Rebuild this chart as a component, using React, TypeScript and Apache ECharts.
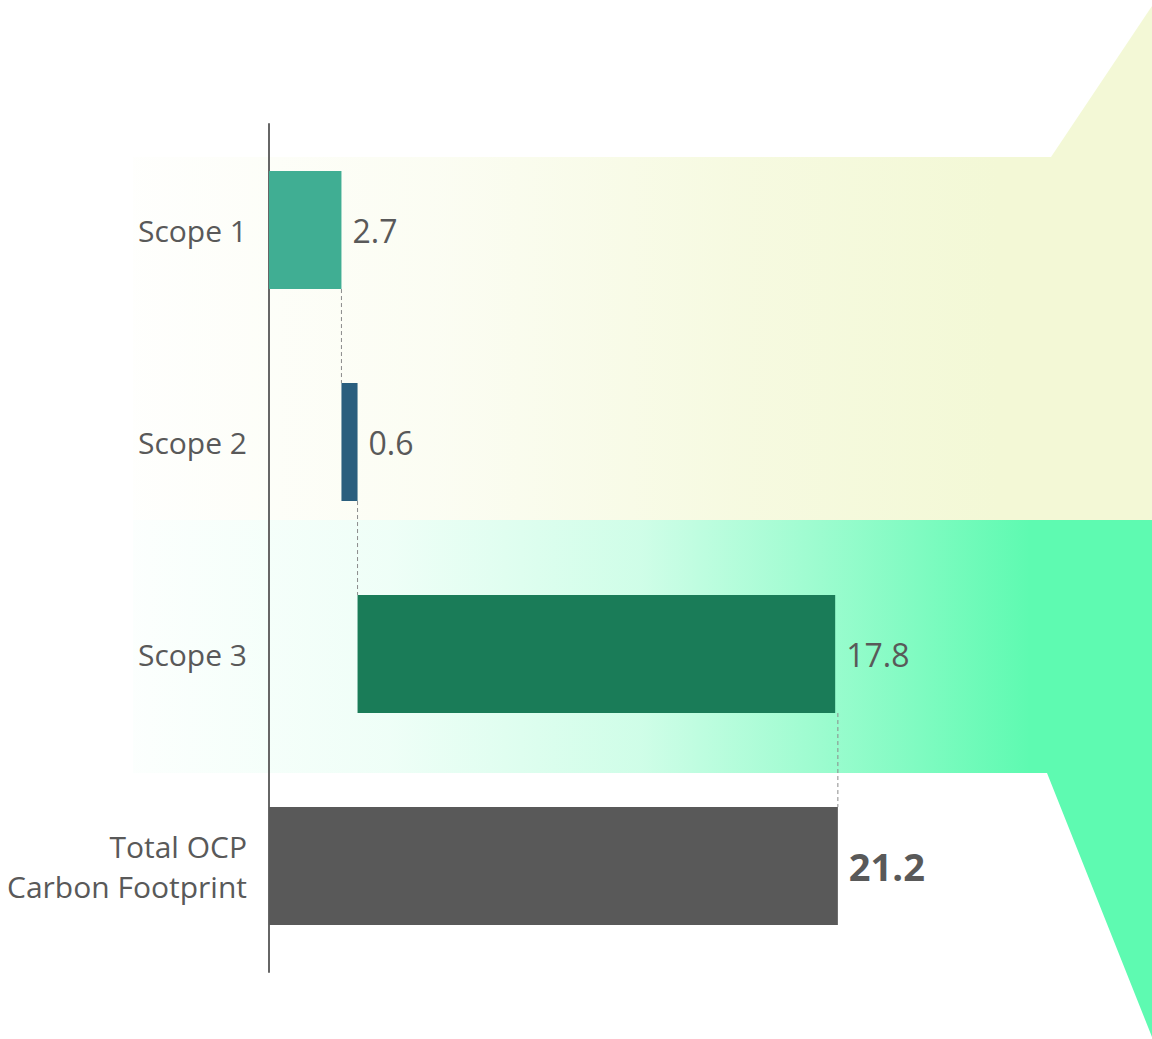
import React, { useEffect, useRef } from "react";
import * as echarts from "echarts";

const categories = ["Scope 1", "Scope 2", "Scope 3", "Total OCP\nCarbon Footprint"];
const values = [2.7, 0.6, 17.8, 21.2];
const isTotal = [false, false, false, true];
const barColors = ["#40ae93", "#2a5e7e", "#1a7c58", "#595959"];

const FONT = "'Open Sans', sans-serif";

export default function App() {
  const ref = useRef<HTMLDivElement>(null);
  useEffect(() => {
    if (!ref.current) return;
    const chart = echarts.init(ref.current, undefined, { renderer: "svg" });

    // waterfall bases
    const bases: number[] = [];
    let run = 0;
    values.forEach((v, i) => {
      if (isTotal[i]) {
        bases.push(0);
      } else {
        bases.push(run);
        run += v;
      }
    });
    // connector data: [xValue, fromIndex]
    const connectors = values.slice(0, -1).map((v, i) => [bases[i] + v, i]);
    connectors[connectors.length - 1] = [values[values.length - 1], values.length - 2];

    const BAR_RATIO = 0.557;

    chart.setOption({
      animation: false,
      backgroundColor: "#ffffff",
      graphic: [
        {
          type: "polygon",
          z: -10,
          silent: true,
          shape: {
            points: [
              [133, 157],
              [1051, 157],
              [1152, 6],
              [1152, 520],
              [133, 520],
            ],
          },
          style: {
            fill: new echarts.graphic.LinearGradient(0, 0, 1, 0, [
              { offset: 0, color: "rgba(243,248,214,0.05)" },
              { offset: 0.3, color: "rgba(243,248,214,0.3)" },
              { offset: 0.6, color: "rgba(243,248,214,0.75)" },
              { offset: 0.85, color: "rgba(243,248,214,1)" },
              { offset: 1, color: "rgba(243,248,214,1)" },
            ]),
          },
        },
        {
          type: "polygon",
          z: -10,
          silent: true,
          shape: {
            points: [
              [133, 520],
              [1152, 520],
              [1152, 1037],
              [1047, 773],
              [133, 773],
            ],
          },
          style: {
            fill: new echarts.graphic.LinearGradient(0, 0, 1, 0, [
              { offset: 0, color: "rgba(94,250,177,0.02)" },
              { offset: 0.25, color: "rgba(94,250,177,0.1)" },
              { offset: 0.5, color: "rgba(94,250,177,0.3)" },
              { offset: 0.7, color: "rgba(94,250,177,0.66)" },
              { offset: 0.88, color: "rgba(94,250,177,1)" },
              { offset: 1, color: "rgba(94,250,177,1)" },
            ]),
          },
        },
      ],
      grid: { left: 269, right: 78, top: 124, bottom: 67, containLabel: false },
      xAxis: {
        type: "value",
        min: 0,
        max: 30,
        show: false,
      },
      yAxis: {
        type: "category",
        inverse: true,
        data: categories,
        axisLine: { show: true, lineStyle: { color: "#666666", width: 2 } },
        axisTick: { show: false },
        axisLabel: {
          margin: 22,
          color: "#595959",
          fontSize: 30,
          fontFamily: FONT,
          lineHeight: 40,
          align: "right",
        },
        splitLine: { show: false },
      },
      series: [
        {
          type: "bar",
          stack: "wf",
          barWidth: `${BAR_RATIO * 100}%`,
          itemStyle: { color: "transparent" },
          data: bases,
          silent: true,
        },
        {
          type: "bar",
          stack: "wf",
          barWidth: `${BAR_RATIO * 100}%`,
          data: values.map((v, i) => ({
            value: v,
            itemStyle: { color: barColors[i] },
            label: {
              show: true,
              position: "right",
              distance: 11,
              formatter: v.toFixed(1),
              color: "#595959",
              fontFamily: FONT,
              fontSize: isTotal[i] ? 38 : 32,
              fontWeight: isTotal[i] ? "bold" : "normal",
            },
          })),
        },
        {
          type: "custom",
          silent: true,
          z: 3,
          data: connectors,
          renderItem: (params: any, api: any) => {
            const x = api.value(0);
            const idx = api.value(1);
            const p1 = api.coord([x, idx]);
            const p2 = api.coord([x, idx + 1]);
            const band = api.size([0, 1])[1];
            const half = (band * BAR_RATIO) / 2;
            return {
              type: "line",
              shape: { x1: p1[0], y1: p1[1] + half, x2: p2[0], y2: p2[1] - half },
              style: { stroke: "#8a8a8a", lineWidth: 1, lineDash: [4, 3] },
            };
          },
        },
      ],
    });
    return () => chart.dispose();
  }, []);

  return (
    <div
      ref={ref}
      style={{ position: "fixed", left: 0, top: 0, width: 1152, height: 1039 }}
    />
  );
}
